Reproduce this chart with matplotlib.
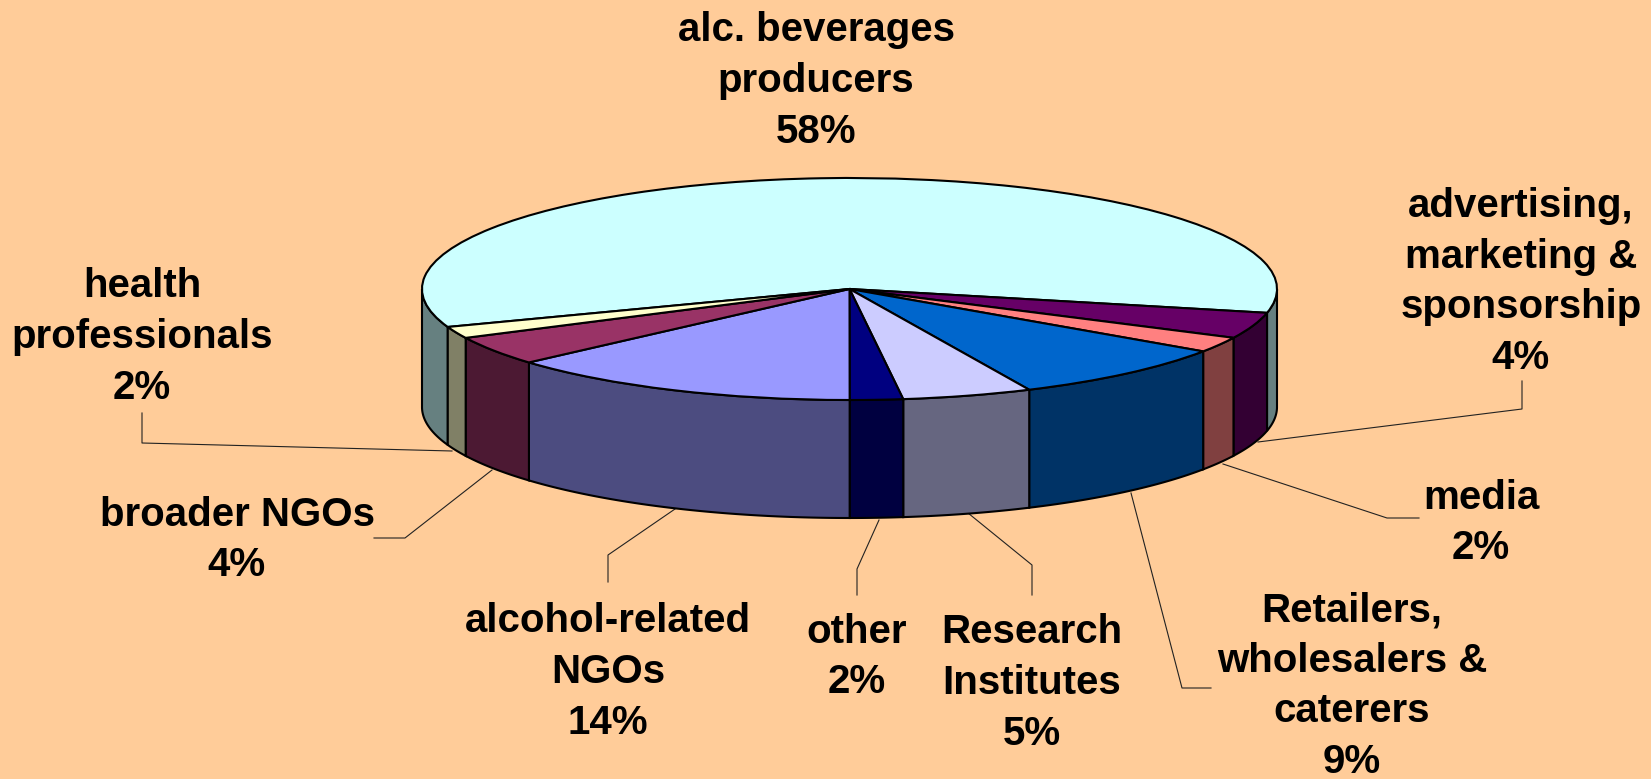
# -*- coding: utf-8 -*-
"""
3D look pie of stakeholder shares, drawn with a squashed pie and side walls
"""

import numpy as np
import matplotlib
matplotlib.use('Agg')
import matplotlib.pyplot as plt
from matplotlib.patches import Polygon

#%% Data

# shares as measured from the slice angles, labels carry the rounded numbers
categories  = ['alc. beverages\nproducers', 'advertising,\nmarketing &\nsponsorship', 'media',
               'Retailers,\nwholesalers &\ncaterers', 'Research\nInstitutes', 'other',
               'alcohol-related\nNGOs', 'broader NGOs', 'health\nprofessionals']
shares      = [59.0, 3.8, 2.25, 8.6, 4.9, 2.0, 13.5, 4.25, 1.7]
share_text  = ['58%', '4%', '2%', '9%', '5%', '2%', '14%', '4%', '2%']
top_colors  = ['#CCFFFF', '#660066', '#FF8080', '#0066CC', '#CCCCFF', '#000080', '#9999FF', '#993366', '#FFFFCC']
wall_colors = ['#668080', '#330033', '#804040', '#003366', '#666680', '#000040', '#4C4C80', '#4C1933', '#808066']

#%% Layout (pixels of the 1651x779 picture)

width, height = 1651, 779
cx, cy  = 849.5, 289
rx, ry  = 427.5, 111
depth   = 118 / ry
start   = 200

label_pos = [(816, 81), (1521, 282), (1481, 523), (1352, 686), (1032, 683),
             (857, 657), (608, 672), (237, 540), (142, 337)]

leaders = [[(142, 413), (142, 443), (452, 451)],
           [(374, 538), (405, 538), (492, 470)],
           [(608, 582), (608, 555), (675, 509)],
           [(857, 595), (857, 569), (879, 520)],
           [(1032, 595), (1032, 565), (968, 513)],
           [(1211, 688), (1182, 688), (1131, 493)],
           [(1419, 518), (1387, 518), (1223, 464)],
           [(1522, 381), (1522, 409), (1258, 442)]]

bg = '#FFCC99'

plt.rcParams['font.family'] = ['Liberation Sans', 'DejaVu Sans']

#%% Figure

fig = plt.figure(figsize=(width / 100, height / 100), dpi=100, facecolor=bg)
ax  = fig.add_axes([0, 0, 1, 1])

wedges, _ = ax.pie(shares, colors=top_colors, startangle=start, counterclock=False,
                   wedgeprops=dict(edgecolor='black', linewidth=1.5))

# pie forces equal aspect, undo it so the disc becomes an ellipse
ax.set_aspect('auto')
ax.set_xlim(-cx / rx, (width - cx) / rx)
ax.set_ylim((cy - height) / ry, cy / ry)
ax.set_axis_off()


def to_data(pts):
    return [((x - cx) / rx, (cy - y) / ry) for x, y in pts]


#%% Side walls, only the front half of the disc is visible

angle = start
for share, col in zip(shares, wall_colors):
    a1 = angle
    a0 = angle - share * 360 / sum(shares)
    angle = a0
    # front half is 180..360 deg, slices past 0 deg show up one turn later
    for shift in (0, 360):
        lo = max(a0 + shift, 180)
        hi = min(a1 + shift, 360)
        if hi <= lo:
            continue
        t = np.radians(np.linspace(lo, hi, 80))
        upper = np.column_stack([np.cos(t), np.sin(t)])
        lower = upper[::-1] - [0, depth]
        ax.add_patch(Polygon(np.vstack([upper, lower]), closed=True, facecolor=col,
                             edgecolor='black', linewidth=1.5, zorder=0.5))

#%% Leader lines and labels

for pts in leaders:
    xy = np.array(to_data(pts))
    ax.plot(xy[:, 0], xy[:, 1], color='#222222', linewidth=0.8, zorder=0.4)

for cat, txt, pos in zip(categories, share_text, label_pos):
    x, y = to_data([pos])[0]
    ax.text(x, y, cat + '\n' + txt, ha='center', va='center', ma='center',
            fontsize=29, fontweight='bold', color='black', linespacing=1.42)

fig.savefig('out.png', dpi=100, facecolor=bg)
